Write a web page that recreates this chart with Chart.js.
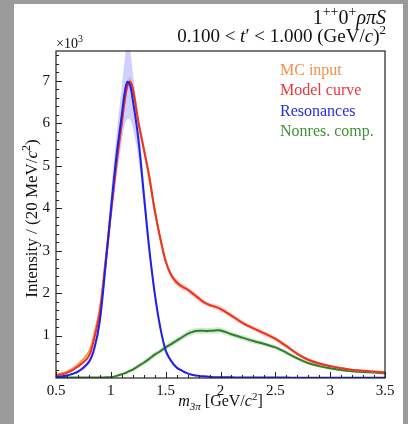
<!DOCTYPE html>
<html>
<head>
<meta charset="utf-8">
<script src="https://cdn.jsdelivr.net/npm/chart.js@4"></script>
<style>
    html, body { margin: 0; padding: 0; background: #9b9b9b; }
    canvas { display: block; }
</style>
</head>
<body>
<canvas id="chart" width="408" height="424"></canvas>
<script>
// m_3pi bin centres [GeV/c^2]
const massPoints = [0.5, 0.6, 0.7, 0.8, 0.85, 0.9, 0.95,
    1.0, 1.05, 1.1, 1.125, 1.15, 1.175, 1.2,
    1.25, 1.3, 1.35, 1.4, 1.45, 1.5, 1.55, 1.6, 1.65, 1.7, 1.75, 1.8, 1.85, 1.9, 1.95, 2.0,
    2.1, 2.2, 2.3, 2.4, 2.5, 2.6, 2.7, 2.8, 2.9, 3.0, 3.1, 3.2, 3.3, 3.4, 3.5];

// intensities in units of 10^3
const mcInput = [0.07, 0.15, 0.32, 0.62, 1.05, 1.65, 2.75,
    3.9, 5.05, 6.0, 6.5, 6.87, 6.99, 6.84,
    6.05, 5.4, 4.72, 3.95, 3.3, 2.76, 2.44, 2.27, 2.16, 2.08, 1.99, 1.88, 1.79, 1.72, 1.68, 1.62,
    1.46, 1.3, 1.17, 1.05, 0.93, 0.76, 0.57, 0.43, 0.34, 0.28, 0.23, 0.19, 0.17, 0.15, 0.13];
const modelCurve = [0.06, 0.12, 0.27, 0.52, 0.95, 1.55, 2.65,
    3.85, 5.0, 6.0, 6.5, 6.87, 6.98, 6.82,
    6.05, 5.4, 4.75, 3.95, 3.3, 2.75, 2.42, 2.25, 2.15, 2.08, 1.98, 1.88, 1.78, 1.72, 1.68, 1.63,
    1.47, 1.3, 1.17, 1.05, 0.92, 0.75, 0.57, 0.43, 0.34, 0.28, 0.23, 0.19, 0.17, 0.15, 0.13];
const modelErr = [0.02, 0.02, 0.03, 0.04, 0.05, 0.06, 0.07,
    0.08, 0.09, 0.1, 0.1, 0.12, 0.12, 0.1,
    0.08, 0.07, 0.07, 0.07, 0.07, 0.07, 0.07, 0.08, 0.08, 0.07, 0.07, 0.07, 0.06, 0.06, 0.06, 0.07,
    0.06, 0.06, 0.06, 0.06, 0.06, 0.05, 0.05, 0.04, 0.04, 0.03, 0.03, 0.03, 0.03, 0.03, 0.03];
const resonances = [0.02, 0.06, 0.15, 0.38, 0.7, 1.35, 2.6,
    3.95, 5.2, 6.2, 6.7, 6.97, 6.9, 6.55,
    5.65, 4.35, 3.05, 2.0, 1.2, 0.65, 0.4, 0.25, 0.17, 0.11, 0.07, 0.05, 0.04, 0.03, 0.02, 0.02,
    0.015, 0.01, 0.01, 0.01, 0.01, 0.01, 0.005, 0.005, 0.005, 0.005, 0.005, 0.005, 0.005, 0.005, 0.005];
const resonancesErr = [0.005, 0.01, 0.02, 0.05, 0.08, 0.14, 0.22,
    0.35, 0.5, 0.65, 0.75, 0.88, 0.82, 0.65,
    0.45, 0.3, 0.2, 0.14, 0.1, 0.07, 0.05, 0.04, 0.03, 0.02, 0.02, 0.01, 0.01, 0.01, 0.01, 0.01,
    0.01, 0.01, 0.01, 0.01, 0.01, 0.01, 0.005, 0.005, 0.005, 0.005, 0.005, 0.005, 0.005, 0.005, 0.005];
const nonresComp = [0.01, 0.01, 0.01, 0.01, 0.01, 0.01, 0.015,
    0.02, 0.05, 0.09, 0.11, 0.14, 0.17, 0.2,
    0.28, 0.36, 0.45, 0.55, 0.63, 0.72, 0.8, 0.88, 0.96, 1.04, 1.09, 1.11, 1.11, 1.11, 1.12, 1.12,
    1.03, 0.95, 0.87, 0.8, 0.72, 0.6, 0.46, 0.35, 0.28, 0.23, 0.19, 0.16, 0.14, 0.13, 0.11];
const nonresErr = [0.005, 0.005, 0.005, 0.005, 0.005, 0.005, 0.01,
    0.01, 0.02, 0.03, 0.03, 0.04, 0.04, 0.05,
    0.05, 0.06, 0.06, 0.06, 0.06, 0.07, 0.07, 0.07, 0.07, 0.07, 0.07, 0.07, 0.07, 0.07, 0.07, 0.07,
    0.06, 0.06, 0.06, 0.05, 0.05, 0.05, 0.04, 0.04, 0.03, 0.03, 0.03, 0.03, 0.03, 0.03, 0.03];

const legendLabels = ["MC input", "Model curve", "Resonances", "Nonres. comp."];
const xTickValues = [0.5, 1, 1.5, 2, 2.5, 3, 3.5];
const xTickLabels = ["0.5", "1", "1.5", "2", "2.5", "3", "3.5"];
const yTickValues = [1, 2, 3, 4, 5, 6, 7];
const yTickLabels = ["1", "2", "3", "4", "5", "6", "7"];

const lineColors = ["#f39a4e", "#ee3322", "#1f1fee", "#2f7f2a"];
const legendColors = ["#f0904a", "#e83838", "#2a2ae0", "#3f8f3a"];
const serif = '"Liberation Serif", "DejaVu Serif", serif';

function points(values, shift = null, sign = 1){
    return massPoints.map((m, i) => ({ x: m, y: values[i] + (shift ? sign * shift[i] : 0) }));
}

function lineSet(values, color, order){
    return { data: points(values), borderColor: color, borderWidth: 2, pointRadius: 0,
             fill: false, tension: 0.35, order: order };
}

function bandPair(values, err, color, order){
    return [
        { data: points(values, err, -1), borderWidth: 0, pointRadius: 0, fill: false, tension: 0.35, order: order },
        { data: points(values, err, 1), borderWidth: 0, pointRadius: 0, fill: "-1", backgroundColor: color, tension: 0.35, order: order }
    ];
}

// small rich-text helper: parts are [text, style], style "i" italic, "sup", "sub", "isub"
function drawRich(ctx, parts, x, y, align, size, color = "#111"){
    const fontFor = p => {
        const it = p[1] === "i" || p[1] === "isub" ? "italic " : "";
        const small = p[1] === "sup" || p[1] === "sub" || p[1] === "isub";
        return it + Math.round(small ? size * 0.7 : size) + "px " + serif;
    };
    let width = 0;
    for (const p of parts){ ctx.font = fontFor(p); width += ctx.measureText(p[0]).width; }
    let cx = align === "right" ? x - width : align === "center" ? x - width / 2 : x;
    ctx.textAlign = "left";
    ctx.textBaseline = "alphabetic";
    ctx.fillStyle = color;
    for (const p of parts){
        ctx.font = fontFor(p);
        let dy = 0;
        if (p[1] === "sup") dy = -size * 0.4;
        if (p[1] === "sub" || p[1] === "isub") dy = size * 0.22;
        ctx.fillText(p[0], cx, y + dy);
        cx += ctx.measureText(p[0]).width;
    }
}

const framePlugin = {
    id: "frame",
    beforeDraw(chart){
        const ctx = chart.ctx;
        ctx.save();
        ctx.fillStyle = "#9b9b9b";
        ctx.fillRect(0, 0, chart.width, chart.height);
        ctx.fillStyle = "#ffffff";
        ctx.fillRect(14, 4, 389, 420);
        ctx.restore();
    },
    afterDraw(chart){
        const ctx = chart.ctx;
        const area = chart.chartArea;
        const xs = chart.scales.x, ys = chart.scales.y;
        ctx.save();
        ctx.strokeStyle = "#222";
        ctx.lineWidth = 1.2;
        ctx.strokeRect(area.left, area.top, area.right - area.left, area.bottom - area.top);
        ctx.lineWidth = 1;
        ctx.beginPath();
        for (let k = 5; k <= 35; k++){
            const px = Math.round(xs.getPixelForValue(k / 10)) + 0.5;
            const len = k % 5 === 0 ? 6 : 3;
            ctx.moveTo(px, area.bottom);
            ctx.lineTo(px, area.bottom - len);
        }
        for (let k = 1; k <= 38; k++){
            const py = Math.round(ys.getPixelForValue(k / 5)) + 0.5;
            const len = k % 5 === 0 ? 6 : 3;
            ctx.moveTo(area.left, py);
            ctx.lineTo(area.left + len, py);
        }
        ctx.stroke();

        // titles
        drawRich(ctx, [["1"], ["++", "sup"], ["0"], ["+", "sup"], ["ρπS", "i"]], 386, 24, "right", 20);
        drawRich(ctx, [["0.100 < "], ["t", "i"], ["′ < 1.000 (GeV/"], ["c", "i"], [")"], ["2", "sup"]], 386, 42, "right", 19);
        drawRich(ctx, [["×10"], ["3", "sup"]], 56, 48, "left", 14);

        // axis titles
        drawRich(ctx, [["m", "i"], ["3π", "isub"], [" [GeV/"], ["c", "i"], ["2", "sup"], ["]"]],
            (area.left + area.right) / 2, 406, "center", 16);
        ctx.translate(37, (area.top + area.bottom) / 2 + 4);
        ctx.rotate(-Math.PI / 2);
        drawRich(ctx, [["Intensity / (20 MeV/"], ["c", "i"], ["2", "sup"], [")"]], 0, 0, "center", 17);
        ctx.restore();

        // legend
        ctx.save();
        legendLabels.forEach((label, i) => {
            drawRich(ctx, [[label]], 280, 75 + i * 20.3, "left", 15.5, legendColors[i]);
        });
        ctx.restore();
    }
};

const canvas = document.getElementById("chart");
new Chart(canvas, {
    type: "line",
    data: {
        datasets: [
            lineSet(resonances, lineColors[2], 1),
            lineSet(modelCurve, lineColors[1], 2),
            lineSet(mcInput, lineColors[0], 3),
            lineSet(nonresComp, lineColors[3], 4),
            ...bandPair(resonances, resonancesErr, "rgba(110, 110, 255, 0.32)", 10),
            ...bandPair(modelCurve, modelErr, "rgba(240, 110, 110, 0.28)", 11),
            ...bandPair(nonresComp, nonresErr, "rgba(90, 175, 80, 0.28)", 12)
        ]
    },
    options: {
        responsive: false,
        animation: false,
        devicePixelRatio: 1,
        layout: { padding: { left: 14, right: 23, top: 51, bottom: 0 } },
        plugins: { legend: { display: false }, tooltip: { enabled: false } },
        scales: {
            x: {
                type: "linear", min: 0.5, max: 3.5,
                grid: { display: false, drawTicks: false },
                border: { display: false },
                afterFit: s => { s.height = 46; },
                afterBuildTicks: s => { s.ticks = xTickValues.map(v => ({ value: v })); },
                ticks: {
                    padding: 4, color: "#111", maxRotation: 0, autoSkip: false,
                    font: { family: serif, size: 15 },
                    callback: (v) => xTickLabels[xTickValues.indexOf(v)]
                }
            },
            y: {
                type: "linear", min: 0, max: 7.7,
                grid: { display: false, drawTicks: false },
                border: { display: false },
                afterFit: s => { s.width = 42; },
                afterBuildTicks: s => { s.ticks = yTickValues.map(v => ({ value: v })); },
                ticks: {
                    padding: 6, color: "#111", autoSkip: false,
                    font: { family: serif, size: 15 },
                    callback: (v) => yTickLabels[yTickValues.indexOf(v)]
                }
            }
        }
    },
    plugins: [framePlugin]
});
</script>
</body>
</html>
